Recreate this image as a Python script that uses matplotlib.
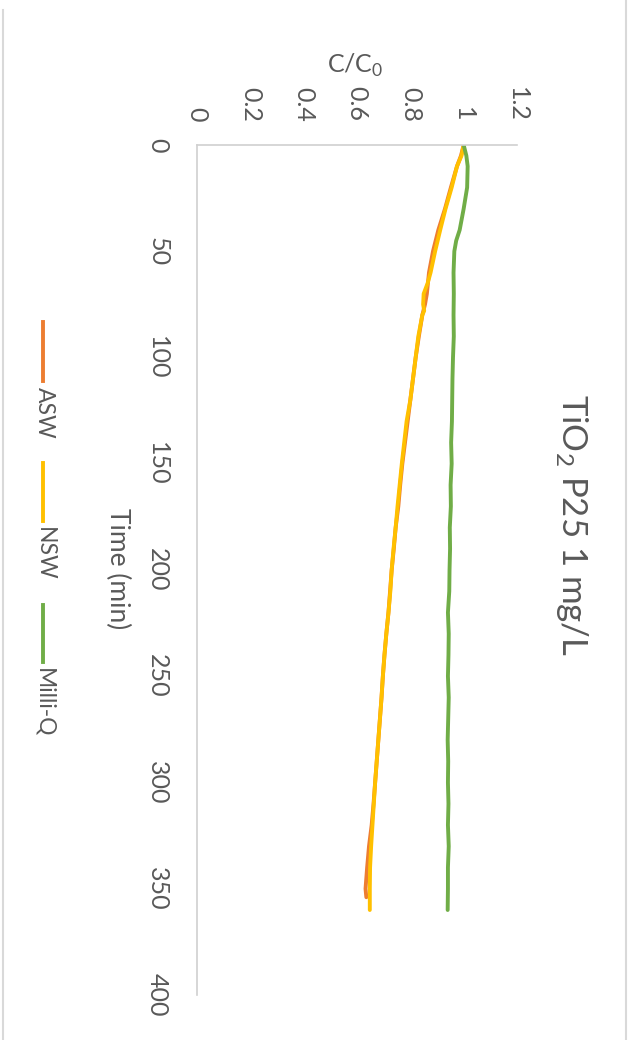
import numpy as np
import matplotlib
matplotlib.use("Agg")
import matplotlib.pyplot as plt
from matplotlib.lines import Line2D

plt.rcParams['font.family'] = ['Lato', 'DejaVu Sans']

# time (min) and C/C0
t_asw = [0, 5, 10, 20, 30, 40, 50, 60, 70, 75, 80, 90, 100, 110, 120, 125, 130, 140, 150,
         160, 170, 180, 190, 200, 210, 220, 230, 240, 250, 260, 270, 280, 290, 300,
         310, 320, 330, 340, 350, 354]
asw = [1.0, 0.99, 0.975, 0.952, 0.93, 0.905, 0.885, 0.87, 0.862, 0.855, 0.845, 0.832, 0.82,
       0.81, 0.8, 0.795, 0.79, 0.78, 0.77, 0.762, 0.755, 0.745, 0.738, 0.73, 0.724, 0.718,
       0.71, 0.703, 0.697, 0.692, 0.686, 0.68, 0.674, 0.668, 0.662, 0.655, 0.645, 0.638,
       0.632, 0.635]

t_nsw = [0, 5, 10, 20, 30, 40, 50, 60, 65, 70, 75, 78, 80, 90, 100, 110, 120, 130, 140, 150,
         160, 170, 180, 190, 200, 210, 220, 230, 240, 250, 260, 270, 280, 290, 300,
         310, 320, 330, 340, 350, 360]
nsw = [1.0, 0.992, 0.975, 0.955, 0.932, 0.912, 0.893, 0.876, 0.865, 0.85, 0.848, 0.852,
       0.845, 0.83, 0.82, 0.81, 0.8, 0.786, 0.777, 0.768, 0.76, 0.752, 0.745, 0.737, 0.73,
       0.725, 0.718, 0.71, 0.703, 0.697, 0.692, 0.686, 0.68, 0.674, 0.668, 0.663, 0.658,
       0.653, 0.649, 0.648, 0.648]

t_mq = [0, 5, 10, 20, 30, 40, 45, 50, 60, 70, 80, 90, 100, 110, 120, 130, 140, 150, 160,
        170, 180, 190, 200, 210, 220, 230, 240, 250, 260, 270, 280, 290, 300, 310, 320,
        330, 340, 350, 360]
milliq = [1.0, 1.01, 1.015, 1.013, 1.0, 0.985, 0.972, 0.965, 0.962, 0.963, 0.962, 0.963,
          0.96, 0.958, 0.957, 0.956, 0.953, 0.955, 0.951, 0.952, 0.948, 0.949, 0.947, 0.946,
          0.941, 0.944, 0.943, 0.941, 0.944, 0.942, 0.94, 0.942, 0.941, 0.943, 0.941, 0.944,
          0.941, 0.941, 0.94]

series = [("ASW", t_asw, asw, "#ED7D31"),
          ("NSW", t_nsw, nsw, "#FFC000"),
          ("Milli-Q", t_mq, milliq, "#70AD47")]

c_ticks = [0, 0.2, 0.4, 0.6, 0.8, 1, 1.2]
t_ticks = [0, 50, 100, 150, 200, 250, 300, 350, 400]

txt = "#595959"
W, H = 632, 1040
fig = plt.figure(figsize=(W / 100, H / 100), dpi=100)
ax = fig.add_axes([197 / W, 1 - 995 / H, 320 / W, 850 / H])

for name, t, c, col in series:
    ax.plot(c, t, color=col, lw=2.8, solid_capstyle='round')

ax.set_xlim(0, 1.2)
ax.set_ylim(400, 0)
ax.set_xticks(c_ticks)
ax.set_xticklabels([f"{v:g}" for v in c_ticks], rotation=-90)
ax.set_yticks(t_ticks)
ax.set_yticklabels([str(v) for v in t_ticks], rotation=-90, va='center')
ax.xaxis.tick_top()
ax.tick_params(axis='both', length=0, labelsize=18, labelcolor=txt)
ax.tick_params(axis='x', pad=17)
ax.tick_params(axis='y', pad=20)
for s in ['right', 'bottom']:
    ax.spines[s].set_visible(False)
for s in ['left', 'top']:
    ax.spines[s].set_color("#D0D0D0")
    ax.spines[s].set_linewidth(1.2)

fig.text(355 / W, 1 - 65 / H, r"C/C$_\mathregular{0}$", fontsize=18, color=txt,
         ha='center', va='center')
fig.text(118 / W, 1 - 569 / H, "Time (min)", fontsize=19, color=txt,
         rotation=-90, ha='center', va='center')
fig.text(572 / W, 1 - 525 / H, r"TiO$_\mathregular{2}$ P25 1 mg/L", fontsize=25,
         color=txt, rotation=-90, ha='center', va='center')

# legend, rotated like the rest of the chart
leg = [(322, 381, 387), (463, 521, 527), (605, 662, 668)]
for (name, t, c, col), (y0, y1, ty) in zip(series, leg):
    fig.add_artist(Line2D([43 / W, 43 / W], [1 - y0 / H, 1 - y1 / H], color=col, lw=2.8,
                          transform=fig.transFigure))
    fig.text(44 / W, 1 - ty / H, name, fontsize=16.5, color=txt, rotation=-90,
             ha='center', va='top')

# outer chart border
fig.add_artist(Line2D([2.5 / W, 2.5 / W], [0, 1 - 10 / H], color="#D9D9D9", lw=1.5,
                      transform=fig.transFigure))
fig.add_artist(Line2D([625.5 / W, 625.5 / W], [0, 1], color="#D9D9D9", lw=1.5,
                      transform=fig.transFigure))

fig.savefig("out.png", dpi=100)
